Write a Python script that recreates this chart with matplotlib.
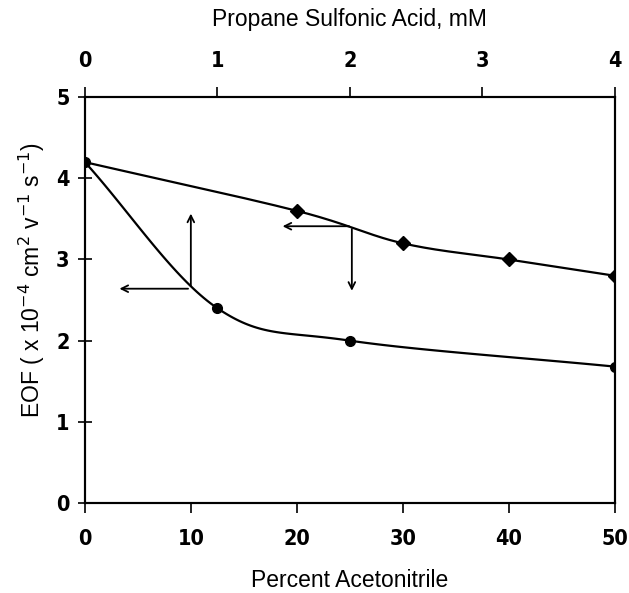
import numpy as np
import matplotlib
matplotlib.use("Agg")
import matplotlib.pyplot as plt

# Acetonitrile series (bottom axis, %)
acn_pct = [0, 20, 30, 40, 50]
acn_eof = [4.2, 3.6, 3.2, 3.0, 2.8]

# Propane sulfonic acid series (top axis, mM)
psa_mm = [0, 1, 2, 4]
psa_eof = [4.2, 2.4, 2.0, 1.68]

x_ticks = [0, 10, 20, 30, 40, 50]
top_ticks = [0, 1, 2, 3, 4]
y_ticks = [0, 1, 2, 3, 4, 5]


def smooth(xs, ys, n=40):
    # Catmull-Rom style smoothing of the connecting line
    xs = np.asarray(xs, float)
    ys = np.asarray(ys, float)
    px = np.concatenate([[2 * xs[0] - xs[1]], xs, [2 * xs[-1] - xs[-2]]])
    py = np.concatenate([[2 * ys[0] - ys[1]], ys, [2 * ys[-1] - ys[-2]]])
    ox, oy = [], []
    t = np.linspace(0, 1, n)
    for i in range(1, len(px) - 2):
        for p, o in ((px, ox), (py, oy)):
            p0, p1, p2, p3 = p[i - 1], p[i], p[i + 1], p[i + 2]
            o.extend(0.5 * (2 * p1 + (-p0 + p2) * t
                            + (2 * p0 - 5 * p1 + 4 * p2 - p3) * t ** 2
                            + (-p0 + 3 * p1 - 3 * p2 + p3) * t ** 3))
    return np.array(ox), np.array(oy)


tick_font = dict(family=["DejaVu Sans"], stretch="condensed",
                 weight="bold", size=15.5)
label_font = dict(family=["Liberation Sans", "DejaVu Sans"], size=16.5)

fig = plt.figure(figsize=(6.29, 5.93), dpi=100)
ax = fig.add_axes([0.135, 0.152, 0.842, 0.684])

sx, sy = smooth(acn_pct, acn_eof)
ax.plot(sx, sy, color="black", lw=1.6)
ax.plot(acn_pct[1:], acn_eof[1:], ls="none", marker="D", ms=7, color="black")

ax.set_xlim(0, 50)
ax.set_ylim(0, 5)
ax.set_xticks(x_ticks)
ax.set_yticks(y_ticks)
ax.set_xticklabels([str(v) for v in x_ticks], **tick_font)
ax.set_yticklabels([str(v) for v in y_ticks], **tick_font)
ax.tick_params(axis="x", direction="out", length=7, width=1.2, pad=12, color="black")
ax.tick_params(axis="y", direction="inout", length=10, width=1.2, pad=6, color="black")
for s in ax.spines.values():
    s.set_linewidth(1.5)

top = ax.twiny()
top.set_xlim(0, 4)
mx, my = smooth(psa_mm, psa_eof)
top.plot(mx, my, color="black", lw=1.6)
top.plot(psa_mm, psa_eof, ls="none", marker="o", ms=7, color="black")
top.set_xticks(top_ticks)
top.set_xticklabels([str(v) for v in top_ticks], **tick_font)
top.tick_params(axis="x", direction="out", length=7, width=1.2, pad=12, color="black")
for s in top.spines.values():
    s.set_linewidth(1.5)

ax.set_xlabel("Percent Acetonitrile", labelpad=14, **label_font)
ax.set_ylabel("EOF ( x 10$^{-4}$ cm$^{2}$ v$^{-1}$ s$^{-1}$)", **label_font)
ax.yaxis.set_label_coords(-0.072, 0.55)
top.set_xlabel("Propane Sulfonic Acid, mM", labelpad=18, **label_font)

# arrows pointing each curve to its axis
arr = dict(arrowstyle="->", color="black", lw=1.3, mutation_scale=12)
ax.annotate("", xy=(10, 3.6), xytext=(10, 2.64), arrowprops=arr)
ax.annotate("", xy=(3.0, 2.64), xytext=(10, 2.64), arrowprops=arr)
ax.annotate("", xy=(18.4, 3.41), xytext=(25.2, 3.41), arrowprops=arr)
ax.annotate("", xy=(25.2, 2.58), xytext=(25.2, 3.41), arrowprops=arr)

fig.savefig("out.png", dpi=100)
